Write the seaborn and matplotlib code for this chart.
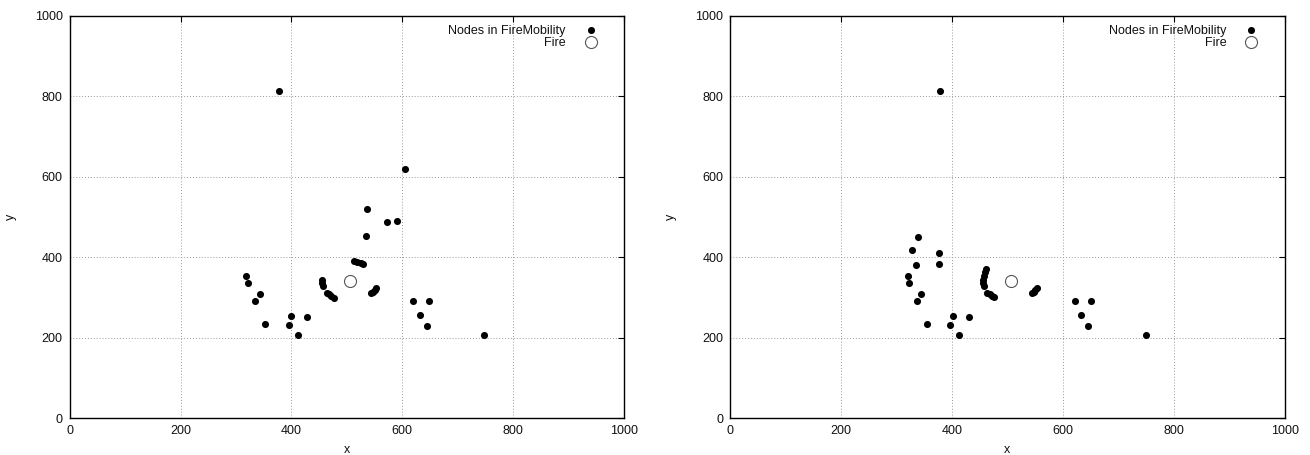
import matplotlib
matplotlib.use("Agg")
import matplotlib.pyplot as plt
import seaborn as sns

# left panel: node positions
left_x = [377, 605, 536, 572, 590, 534, 513, 519, 525, 530, 544, 547, 550, 553,
          455, 456, 457, 464, 468, 472, 477, 318, 322, 343, 334, 352, 400, 396,
          411, 429, 620, 649, 632, 644, 748]
left_y = [814, 620, 520, 487, 491, 452, 391, 389, 387, 384, 311, 315, 320, 325,
          343, 336, 329, 312, 308, 304, 300, 353, 336, 310, 292, 234, 254, 231,
          206, 253, 292, 292, 257, 229, 207]

# right panel: node positions
right_x = [378, 338, 327, 377, 335, 377, 320, 323, 344, 336, 354, 401, 396, 412,
           431, 462, 459, 457, 455, 456, 457, 464, 468, 472, 476, 544, 547, 550,
           553, 621, 650, 633, 645, 750]
right_y = [814, 451, 418, 411, 381, 384, 353, 336, 310, 292, 234, 254, 232, 207,
           253, 370, 363, 354, 344, 336, 329, 312, 308, 305, 302, 311, 315, 320,
           325, 292, 292, 257, 229, 207]

fire_x = [506]
fire_y = [342]

ticks = [0, 200, 400, 600, 800, 1000]

sns.set_theme(style="white")
plt.rcParams['font.family'] = ['Liberation Sans', 'DejaVu Sans']
plt.rcParams['font.size'] = 9
plt.rcParams['text.color'] = '#111111'
plt.rcParams['axes.labelcolor'] = '#111111'

fig = plt.figure(figsize=(13.1, 4.55), dpi=100)
ax1 = fig.add_axes([69.7 / 1310, 1 - 418.3 / 455, 554.3 / 1310, 402.3 / 455])
ax2 = fig.add_axes([730.3 / 1310, 1 - 418.3 / 455, 554.3 / 1310, 402.3 / 455])

for ax, nx, ny in [(ax1, left_x, left_y), (ax2, right_x, right_y)]:
    sns.scatterplot(x=nx, y=ny, ax=ax, color='black', s=26, linewidth=0,
                    label='Nodes in FireMobility', zorder=3)
    sns.scatterplot(x=fire_x, y=fire_y, ax=ax, facecolor='white', edgecolor='#555555',
                    s=75, linewidth=0.8, label='Fire', zorder=3)
    ax.set_xlim(0, 1000)
    ax.set_ylim(0, 1000)
    ax.set_xticks(ticks)
    ax.set_yticks(ticks)
    ax.grid(True, color='#999999', linestyle=(0, (1, 2)), linewidth=0.7)
    ax.tick_params(direction='in', length=4, width=0.8, colors='black',
                   labelcolor='#111111', top=True, right=True, labelsize=9, pad=5)
    for sp in ax.spines.values():
        sp.set_color('black')
        sp.set_linewidth(1.0)
    ax.set_xlabel('x', fontsize=9, labelpad=5)
    ax.set_ylabel('y', fontsize=9, labelpad=13)
    leg = ax.legend(loc='upper right', frameon=False, markerfirst=False,
                    fontsize=9, handletextpad=1.0, labelspacing=0.0,
                    borderaxespad=0.3, bbox_to_anchor=(0.978, 1.0))

fig.savefig('out.png', dpi=100)
